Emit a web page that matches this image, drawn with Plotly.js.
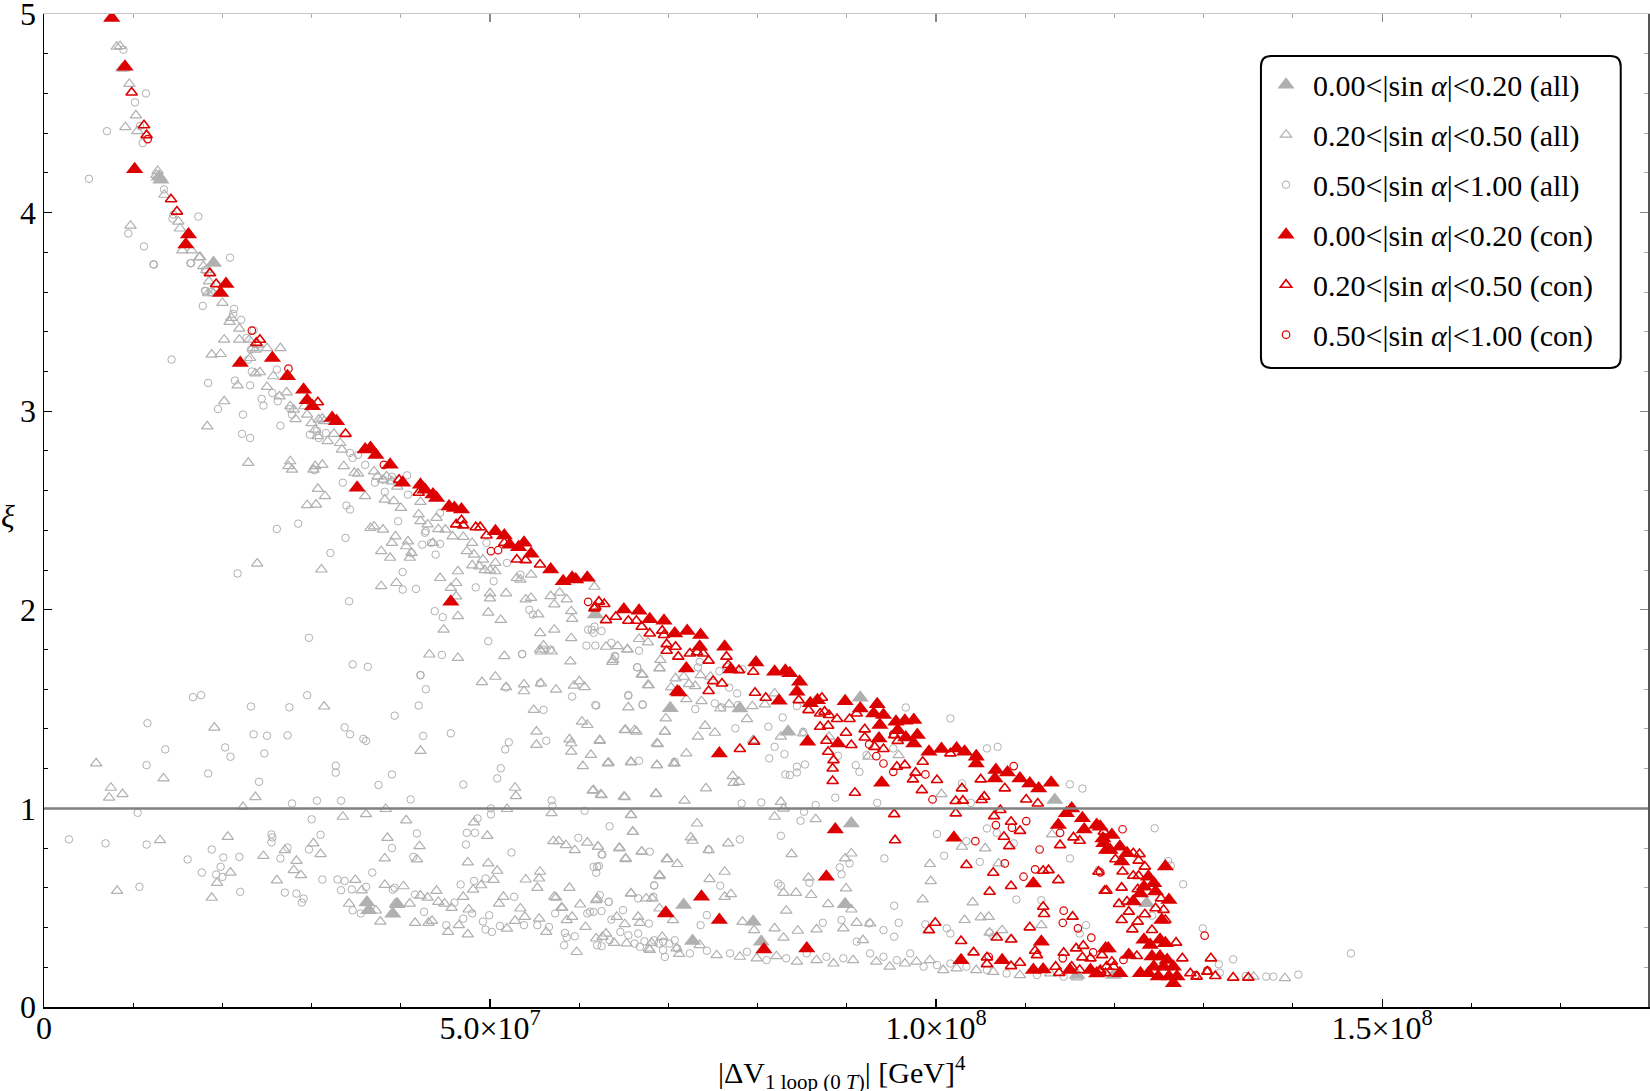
<!DOCTYPE html>
<html>
<head>
<meta charset="utf-8">
<script src="https://cdn.plot.ly/plotly-3.0.1.min.js"></script>
<style>
html,body{margin:0;padding:0;background:#fff;}
#chart{width:1650px;height:1091px;}
</style>
</head>
<body>
<div id="chart"></div>
<script>
// x values are given in units of 10^6 GeV^4, y values are xi
const X_UNIT = 1e6;

const legendNames = [
  "0.00&lt;|sin <i>α</i>|&lt;0.20 (all)",
  "0.20&lt;|sin <i>α</i>|&lt;0.50 (all)",
  "0.50&lt;|sin <i>α</i>|&lt;1.00 (all)",
  "0.00&lt;|sin <i>α</i>|&lt;0.20 (con)",
  "0.20&lt;|sin <i>α</i>|&lt;0.50 (con)",
  "0.50&lt;|sin <i>α</i>|&lt;1.00 (con)"
];

const xTickVals = [0, 5e7, 1e8, 1.5e8];
const xTickText = ["0", "5.0×10<sup>7</sup>", "1.0×10<sup>8</sup>", "1.5×10<sup>8</sup>"];
const xMinorVals = [1e7,2e7,3e7,4e7,6e7,7e7,8e7,9e7,1.1e8,1.2e8,1.3e8,1.4e8,1.6e8,1.7e8];
const yTickVals = [0,1,2,3,4,5];

// gray filled triangles: 0.00<|sin a|<0.20 (all)
const allLow = [[13.1,4.165],[12.9,4.18],[19.0,3.746],[61.8,1.976],[70.2,1.504],[36.2,0.526],[36.4,0.487],[39.1,0.47],[39.6,0.518],[78.0,1.503],[83.4,1.386],[91.5,1.557],[90.5,0.924],[113.3,1.042],[89.8,0.518],[71.7,0.513],[79.5,0.429],[80.4,0.329],[72.7,0.332],[115.8,0.161],[119.9,0.161],[123.6,0.522]];

// gray open triangles: 0.20<|sin a|<0.50 (all)
const allMid = [[8.15,4.835],[8.52,4.838],[8.7,4.726],[8.97,4.726],[9.57,4.648],[10.3,4.49],[9.12,4.43],[10.46,4.41],[12.74,4.21],[12.6,4.19],[13.5,4.09],[9.7,3.934],[15.06,3.955],[15.25,3.92],[15.5,3.81],[16.55,3.81],[17.4,3.775],[17.86,3.73],[18.4,3.594],[19.0,3.594],
[17.5,3.776],[18.2,3.71],[18.5,3.654],[20.0,3.545],[21.0,3.47],[20.8,3.45],[21.9,3.416],[20.2,3.36],[21.9,3.36],[23.0,3.36],[23.4,3.318],[23.7,3.31],[25.0,3.318],[26.5,3.318],[24.0,3.335],[18.8,3.285],[19.8,3.288],[23.1,3.268],[23.7,3.19],[24.2,3.196],[21.7,3.13],[25.0,3.122],[25.7,3.176],[26.4,3.075],[27.2,3.095],[27.6,3.025],[28.0,3.008],[28.2,2.96],[29.5,2.983],[29.2,3.025],[20.2,3.05],[18.3,2.924],[30.0,2.94],[30.8,2.958],[31.2,2.963],[30.4,2.907],[30.7,2.874],[31.8,2.849],[31.4,2.95],[32.5,2.886],[33.2,2.84],[33.4,2.807],[33.6,2.723],[22.9,2.74],[27.6,2.748],[27.4,2.723],[27.8,2.706],[30.4,2.723],[30.2,2.706],[31.2,2.73],[34.8,2.69],[35.2,2.686],[37.0,2.697],[37.4,2.672],[38.0,2.655],[38.4,2.672],[39.0,2.647],[39.6,2.62],[30.7,2.609],[31.5,2.572],[29.5,2.527],[30.5,2.53],[36.0,2.572],[38.2,2.555],[39.2,2.547],[40.0,2.513],[42.2,2.543],[42.0,2.48],[42.2,2.446],[43.0,2.43],[44.0,2.463],[44.2,2.406],[45.0,2.404],[45.8,2.37],[47.0,2.367],[36.6,2.412],[37.0,2.42],[38.0,2.404],[39.4,2.37],[39.0,2.337],[40.8,2.345],[40.6,2.32],[41.2,2.287],[41.0,2.262],[43.6,2.337],[37.8,2.295],[38.8,2.262],[37.8,2.119],[39.5,2.135],[23.9,2.233],[31.1,2.203],[47.4,2.295],[48.0,2.337],[48.2,2.278],[49.2,2.253],[50.6,2.236],[48.8,2.219],[48.0,2.224],[50.0,2.199],[49.4,2.2],[50.6,2.194],[53.0,2.16],[53.4,2.152],[54.6,2.177],[46.4,2.194],[44.4,2.16],[46.2,2.135],[45.6,2.11],[46.2,2.068],[46.4,1.968],[44.8,1.9],[49.8,1.986],[51.2,1.949],[51.8,2.083],[50.0,2.083],[50.0,2.058],[43.2,1.775],[46.4,1.758],[51.6,1.767],[49.1,1.636],[50.6,1.663],[53.8,1.624],[53.8,1.59],[57.4,1.598],[59.4,1.618],[60.6,1.611],[60.0,1.64],[59.0,1.74],[55.6,1.883],[57.2,1.9],[59.1,1.857],[55.6,1.8],[56.0,1.82],[59.2,1.954],[59.1,1.993],[57.2,2.027],[56.8,2.069],[57.8,2.086],[58.6,2.052],[54.0,2.052],[54.6,2.06],[55.4,1.977],
[55.7,1.79],[56.9,1.79],[51.8,1.61],[55.7,1.63],[63.8,1.748],[65.4,1.8],[67.8,1.62],[67.1,1.672],[69.0,1.706],[69.1,1.748],[65.5,1.509],[65.2,1.395],[66.4,1.387],[69.6,1.387],[68.8,1.324],[60.3,1.437],[60.9,1.42],[58.9,1.348],[59.1,1.328],[59.1,1.286],[55.2,1.387],[55.2,1.32],[54.9,1.496],[62.3,1.34],[61.3,1.27],[60.4,1.213],[63.2,1.227],[65.8,1.235],[68.7,1.218],[70.6,1.227],[42.2,1.29],
[5.85,1.227],[7.3,1.054],[8.8,1.072],[7.5,1.104],[13.4,1.151],[19.1,1.407],[31.4,1.513],[23.7,1.057],[22.3,1.007],[33.5,0.958],[36.1,0.971],[38.3,0.997],[40.6,0.94],[48.2,0.93],[49.7,0.862],[51.9,0.997],[52.8,1.104],[52.9,1.062],[56.9,0.976],[65.8,0.968],[66.0,0.882],[68.6,1.072],[65.1,1.057],[62.5,1.067],[61.5,1.089],
[13.0,0.84],[20.6,0.857],[24.6,0.761],[27.0,0.79],[28.3,0.736],[28.0,0.689],[28.8,0.664],[30.2,0.824],[31.0,0.77],[26.1,0.638],[19.4,0.625],[18.8,0.55],[20.9,0.677],[8.2,0.585],[38.5,0.852],[38.2,0.748],[42.1,0.81],[41.8,0.743],[47.5,0.728],[49.8,0.723],[50.8,0.686],[50.4,0.64],[54.0,0.642],[55.5,0.647],[55.6,0.681],[55.3,0.6],[57.1,0.835],[57.7,0.835],[58.5,0.815],[59.5,0.79],[60.9,0.828],[62.1,0.807],[64.5,0.802],[65.2,0.745],[67.0,0.782],[69.9,0.745],[69.0,0.659],[68.2,0.546],[65.8,0.571],[58.9,0.6],[57.4,0.551],[58.0,0.5],
[34.9,0.64],[34.2,0.52],[35.6,0.587],[37.2,0.486],[37.7,0.43],[38.2,0.615],[39.4,0.521],[40.3,0.608],[41.0,0.521],[41.6,0.424],[42.2,0.561],[43.0,0.551],[43.1,0.424],[43.5,0.434],[44.0,0.585],[44.2,0.529],[44.9,0.521],[45.3,0.378],[45.7,0.499],[46.5,0.412],[47.0,0.555],[47.5,0.366],[47.6,0.491],[48.1,0.591],[49.0,0.613],[51.0,0.521],[51.5,0.555],[51.9,0.395],[52.8,0.434],[53.4,0.496],[53.9,0.454],[55.5,0.445],[56.3,0.378],[57.2,0.555],[58.1,0.499],[58.6,0.437],[59.2,0.454],[59.7,0.277],[60.1,0.516],[60.7,0.403],[62.0,0.546],[62.6,0.353],[63.0,0.37],[63.9,0.323],[64.2,0.454],[65.1,0.417],[66.6,0.454],[66.8,0.424],[67.8,0.294],[68.1,0.323],[69.3,0.353],[69.8,0.471],[70.5,0.437],[71.2,0.267],
[61.7,2.116],[63.0,1.814],[64.3,1.817],[65.4,1.801],[66.7,1.853],[67.7,1.836],[63.7,1.738],[69.0,1.705],[67.0,1.675],[67.7,1.621],[70.3,1.609],[70.8,1.655],[71.7,1.663],[72.3,1.626],[73.0,1.616],[73.6,1.671],[74.7,1.663],[72.0,1.55],[73.7,1.54],[75.8,1.503],[76.8,1.524],[79.4,1.515],[80.8,1.524],[81.9,1.579],[78.8,1.45],[69.7,1.453],[65.1,1.394],[66.2,1.394],[69.6,1.386],[74.1,1.416],[75.2,1.381],[73.3,1.361],[68.7,1.327],[62.3,1.344],[79.5,1.344],[82.6,1.361],[85.1,1.378],[88.0,1.361],[92.4,1.26],[95.8,1.268],
[72.0,1.277],[63.3,1.23],[65.8,1.232],[68.7,1.218],[70.7,1.226],[61.6,1.092],[62.4,1.07],[65.0,1.059],[68.6,1.075],[71.8,1.039],[74.2,1.101],[77.2,1.163],[77.3,1.129],[77.9,1.134],[65.8,0.966],[66.0,0.882],[73.2,0.924],[72.5,0.854],[72.7,0.837],[76.7,0.824],[81.9,0.958],[82.6,1.033],[82.9,0.999],[86.5,0.946],[62.1,0.807],[64.5,0.799],[67.0,0.782],[65.2,0.748],[69.8,0.745],[71.0,0.72],[74.5,0.79],[83.8,0.77],[89.8,0.748],[90.5,0.773],[76.3,0.681],[74.6,0.644],[69.0,0.664],[65.8,0.572],[61.9,0.538],[82.9,0.575],[84.3,0.575],[86.0,0.564],[85.7,0.651],[89.9,0.597],[87.9,0.518],[90.5,0.491],[83.2,0.485],[69.0,0.496],[67.5,0.547],[76.3,0.555],[77.0,0.568],[78.3,0.429],[79.6,0.387],[81.9,0.396],[82.9,0.349],[84.5,0.384],[86.6,0.391],[89.6,0.396],[91.1,0.424],[92.6,0.421],[99.3,0.72],[99.4,0.634],[98.5,0.542],[100.6,1.072],[102.9,0.807],[105.5,0.799],[107.0,0.723],[104.1,0.527],[103.2,0.438],[105.0,0.451],[105.9,0.454],[106.0,0.374],[107.4,0.387],[108.5,0.34],[113.0,0.869],[111.8,0.412],
[61.9,0.345],[65.3,0.32],[67.9,0.287],[70.9,0.295],[73.5,0.312],[75.4,0.261],[78.0,0.253],[79.9,0.245],[82.1,0.256],[84.4,0.228],[86.6,0.236],[88.5,0.219],[90.7,0.236],[91.8,0.337],[93.3,0.228],[94.8,0.203],[96.5,0.219],[97.8,0.228],[99.3,0.236],[100.8,0.186],[102.3,0.194],[104.5,0.186],[106.4,0.177],[109.4,0.161],[112.8,0.169],[115.8,0.149],
[135.6,0.153],[139.1,0.145]];

// gray open circles: 0.50<|sin a|<1.00 (all)
const allHigh = [[8.9,4.82],[11.43,4.6],[10.2,4.555],[7.06,4.41],[10.76,4.436],[11.06,4.35],[5.04,4.17],[13.45,4.117],[14.4,3.97],[14.5,3.99],[17.3,3.98],[9.45,3.895],[11.2,3.83],[12.26,3.74],[16.4,3.745],[20.85,3.773],[18.05,3.71],[18.05,3.607],
[12.33,3.738],[16.5,3.746],[18.1,3.604],[18.7,3.6],[17.8,3.53],[21.3,3.515],[21.2,3.49],[22.1,3.46],[23.5,3.407],[22.7,3.369],[23.2,3.31],[22.9,3.26],[14.3,3.26],[23.3,3.2],[26.1,3.21],[27.2,3.176],[18.4,3.142],[21.4,3.154],[23.1,3.13],[24.4,3.062],[24.6,3.028],[25.6,3.092],[26.2,3.05],[27.6,3.011],[27.8,2.983],[19.5,3.011],[22.3,2.983],[26.5,2.927],[22.2,2.886],[23.1,2.865],[29.8,2.882],[30.6,2.9],[31.6,2.89],[30.8,2.865],[34.3,2.79],[34.6,2.765],[35.2,2.78],[33.5,2.64],[36.0,2.73],[30.3,2.703],[37.1,2.64],[38.0,2.655],[39.0,2.67],[39.7,2.655],[33.9,2.525],[34.3,2.505],[38.2,2.594],[40.7,2.677],[40.8,2.58],[39.7,2.446],[42.8,2.396],[44.4,2.488],[43.4,2.337],[43.9,2.278],[42.4,2.328],[42.7,2.388],[44.4,2.332],[41.2,2.285],[40.2,2.19],[41.7,2.105],[40.2,2.102],[26.1,2.407],[28.5,2.434],[33.8,2.362],[32.1,2.286],[21.7,2.183],[34.2,2.043],[49.6,2.337],[51.9,2.236],[53.4,2.177],[50.4,2.144],[43.8,1.993],[44.7,1.963],[48.4,2.113],[49.8,1.842],[53.6,1.778],[56.0,1.8],[56.8,1.8],[44.6,1.773],[42.2,1.67],[42.8,1.6],[51.8,1.609],[55.6,1.63],[59.2,1.563],[54.4,2.0],[54.8,1.976],[61.0,1.9],[61.6,1.884],[61.8,1.82],[61.4,1.9],[60.8,1.82],[16.7,1.56],[17.6,1.57],[29.5,1.57],[34.6,1.725],[36.3,1.713],[29.7,1.859],
[53.6,1.776],[42.2,1.672],[42.0,1.518],[61.9,1.518],[65.5,1.571],[67.1,1.521],[64.0,1.768],[66.5,1.711],[56.0,1.496],[56.3,1.341],[52.1,1.333],[51.7,1.297],[51.2,1.202],[50.8,1.151],[47.0,1.12],[45.6,1.378],[42.5,1.365],[11.6,1.429],[13.6,1.297],[11.5,1.218],[18.4,1.176],[20.3,1.307],[20.9,1.26],[23.2,1.513],[23.5,1.373],[25.0,1.366],[24.7,1.277],[27.3,1.368],[27.5,1.509],[33.7,1.408],[34.3,1.373],[35.8,1.35],[36.1,1.34],[32.7,1.215],[32.7,1.18],[24.1,1.134],[37.5,1.118],[39.0,1.171],[39.3,1.467],[41.1,1.045],[33.3,1.039],[30.6,1.039],[27.8,1.025],[10.5,0.978],[50.1,1.0],[50.1,0.97],[56.9,1.04],[57.0,1.013],[60.6,0.988],[63.4,0.91],[59.9,0.852],[62.6,0.768],[48.6,0.949],[48.3,0.877],[47.4,0.877],[47.3,0.818],[41.8,0.874],[39.0,0.8],[41.4,0.756],[31.0,0.867],[30.0,0.945],[29.7,0.793],[52.4,0.778],[62.0,0.706],
[2.8,0.844],[6.9,0.824],[11.5,0.818],[10.7,0.605],[16.1,0.743],[17.7,0.677],[18.8,0.793],[20.1,0.753],[19.8,0.706],[19.3,0.667],[20.0,0.655],[21.9,0.756],[22.0,0.58],[25.5,0.869],[25.6,0.854],[25.5,0.829],[26.5,0.748],[27.3,0.803],[27.0,0.576],[28.3,0.571],[28.9,0.526],[29.1,0.546],[31.2,0.642],[32.9,0.642],[33.7,0.635],[33.3,0.588],[34.5,0.592],[36.1,0.605],[36.8,0.677],[39.1,0.591],[39.3,0.6],[41.6,0.566],[48.2,0.635],[46.7,0.617],[49.5,0.647],
[34.6,0.487],[35.5,0.471],[42.6,0.479],[45.1,0.412],[46.0,0.526],[47.0,0.445],[48.0,0.471],[49.2,0.43],[49.5,0.39],[49.9,0.462],[50.2,0.378],[51.1,0.408],[52.7,0.555],[53.8,0.412],[55.3,0.412],[56.6,0.403],[57.3,0.471],[58.4,0.373],[58.6,0.35],[58.3,0.311],[59.5,0.356],[60.9,0.471],[61.6,0.479],[62.0,0.311],[62.5,0.306],[63.3,0.529],[63.6,0.44],[64.6,0.378],[65.5,0.361],[66.2,0.319],[66.6,0.37],[67.3,0.331],[67.8,0.42],[68.4,0.336],[68.9,0.319],[69.4,0.286],[69.6,0.252],[70.1,0.319],[70.7,0.336],[71.0,0.294],[68.4,0.613],
[61.7,1.915],[62.5,1.893],[63.6,1.834],[64.0,1.764],[66.7,1.794],[66.5,1.71],[65.5,1.567],[67.1,1.524],[61.8,1.52],[73.3,1.71],[73.5,1.738],[75.7,1.691],[76.5,1.713],[76.8,1.608],[77.7,1.579],[78.3,1.7],[77.8,1.52],[75.2,1.529],[73.0,1.5],[76.0,1.508],[77.5,1.403],[81.2,1.411],[82.8,1.458],[81.9,1.31],[84.4,1.515],[85.1,1.386],[89.0,1.265],[96.6,1.508],[101.6,1.453],[105.7,1.302],[106.9,1.31],[83.0,1.273],[95.2,1.302],
[66.7,1.24],[70.7,1.235],[81.3,1.252],[83.1,1.171],[83.6,1.168],[84.4,1.181],[84.4,1.21],[85.3,1.221],[91.0,1.218],[91.4,1.184],[92.2,1.268],[88.7,1.054],[86.5,1.017],[80.4,1.03],[78.2,1.025],[85.2,0.983],[84.8,0.938],[82.6,0.862],[78.0,0.844],[74.5,0.793],[67.9,0.782],[62.5,0.768],[61.6,0.706],[62.2,0.71],[61.9,0.676],[68.4,0.611],[75.8,0.611],[82.3,0.622],[82.6,0.61],[85.8,0.626],[89.2,0.703],[89.4,0.668],[90.3,0.723],[94.2,0.748],[93.4,1.028],[100.1,0.871],[100.9,0.762],[103.4,0.835],[102.9,1.126],[103.9,1.028],[105.7,0.899],[106.8,0.877],[104.9,0.731],[108.7,0.824],[109.0,0.541],[111.8,0.538],[95.3,0.51],[95.8,0.424],[94.1,0.387],[95.3,0.354],[98.8,0.416],[101.2,0.396],[101.6,0.37],[106.0,0.374],[106.4,0.354],[115.0,1.121],[116.4,1.1],[115.0,0.748],[118.2,0.689],[116.1,0.37],[116.8,0.412],[62.3,0.563],[63.3,0.53],[61.2,0.48],[62.5,0.483],[64.9,0.488],[66.6,0.547],[68.3,0.555],[74.3,0.463],[73.6,0.412],[87.3,0.424],[89.4,0.438],[92.5,0.421],
[63.4,0.337],[66.8,0.303],[69.4,0.329],[72.4,0.27],[74.3,0.283],[76.9,0.27],[78.8,0.278],[81.0,0.236],[83.2,0.245],[85.5,0.27],[87.7,0.253],[89.6,0.245],[91.1,0.329],[92.6,0.27],[94.1,0.253],[95.6,0.236],[97.1,0.27],[98.6,0.203],[100.1,0.211],[101.6,0.219],[103.4,0.203],[105.7,0.186],[107.9,0.169],[111.3,0.161],[114.3,0.152],
[124.5,0.9],[126.0,0.735],[126.3,0.712],[127.7,0.618],[124.2,0.46],[129.9,0.396],[131.7,0.215],[131.8,0.173],[133.3,0.24],[134.7,0.156],[137.0,0.153],[137.8,0.153],[140.6,0.163],[146.5,0.27]];

// red filled triangles: 0.00<|sin a|<0.20 (con)
const conLow = [[7.59,4.98],[9.08,4.735],[10.16,4.218],[16.2,3.89],[15.9,3.84],[20.4,3.64],[19.8,3.595],
[22.0,3.243],[25.6,3.268],[27.3,3.176],[29.1,3.108],[29.5,3.055],[30.1,3.025],[32.3,2.966],[32.8,2.95],[36.0,2.807],[36.6,2.815],[37.2,2.78],[38.8,2.73],[35.1,2.614],[40.2,2.64],[42.2,2.63],[42.7,2.605],[43.6,2.58],[44.0,2.563],[45.4,2.52],[46.0,2.513],[46.8,2.505],[45.6,2.04],[50.6,2.396],[51.6,2.374],[52.2,2.328],[53.2,2.315],[53.8,2.337],[54.6,2.282],[56.8,2.203],[58.2,2.144],[59.2,2.161],[59.6,2.152],[60.9,2.161],
[71.0,1.588],[69.7,0.471],
[65.0,2.002],[66.7,1.995],[67.9,1.952],[69.5,1.945],[70.7,1.881],[72.1,1.893],[73.6,1.873],[73.5,1.814],[76.3,1.814],[77.0,1.7],[79.8,1.735],[81.9,1.688],[83.1,1.693],[83.6,1.68],[84.7,1.638],[84.4,1.587],[72.0,1.705],[71.2,1.584],[82.4,1.542],[85.9,1.529],[86.7,1.545],[89.8,1.54],[91.5,1.503],[93.4,1.525],[93.0,1.478],[94.1,1.47],[93.7,1.42],[95.5,1.436],[96.5,1.441],[97.5,1.445],[95.7,1.394],[96.6,1.357],[97.9,1.369],[97.5,1.327],[85.6,1.336],[89.0,1.327],[93.6,1.352],[99.2,1.285],[100.6,1.299],[102.3,1.302],[103.2,1.285],[104.5,1.26],[75.7,1.277],
[88.7,0.894],[93.9,1.129],[102.0,0.852],[87.7,0.656],[73.7,0.555],[75.7,0.438],[69.7,0.475],[80.7,0.29],[85.5,0.295],[102.8,0.236],[104.5,1.226],[106.7,1.193],[108.0,1.181],[106.6,1.151],[109.4,1.151],[110.5,1.126],[111.5,1.1],[112.9,1.129],[115.2,1.0],[114.6,0.975],[113.7,0.916],[116.4,0.95],[118.0,0.916],[116.6,0.894],[118.7,0.849],[119.1,0.79],[110.9,0.622],[111.8,0.329],[119.0,0.295],[107.4,0.236],[110.9,0.186],[112.0,0.189],[115.0,0.186],[117.3,0.186],[118.0,0.169],
[118.4,0.908],[119.7,0.866],[118.8,0.824],[120.6,0.807],[119.5,0.79],[120.8,0.732],[121.4,0.774],[125.7,0.707],[123.8,0.656],[123.3,0.606],[124.4,0.623],[122.9,0.572],[124.6,0.581],[126.1,0.539],[122.1,0.531],[125.3,0.438],[123.3,0.338],[124.0,0.312],[125.1,0.338],[125.7,0.321],[119.3,0.295],[121.6,0.262],[124.2,0.254],[125.1,0.254],[125.9,0.237],[124.4,0.203],[125.5,0.203],[126.6,0.203],[120.6,0.17],[122.9,0.17],[127.0,0.153],[126.1,0.153],[126.6,0.119],[124.9,0.153],[123.8,0.17]];

// red open triangles: 0.20<|sin a|<0.50 (con)
const conMid = [[9.83,4.605],[11.21,4.44],[11.5,4.39],[14.24,4.067],[14.9,4.005],[18.6,3.695],[19.3,3.64],
[24.2,3.36],[23.8,3.344],[30.7,3.045],[33.8,2.886],[39.8,2.655],[42.0,2.589],[46.2,2.43],[46.8,2.451],[47.0,2.425],[48.4,2.416],[48.9,2.416],[49.6,2.374],[51.6,2.337],[53.0,2.253],[54.0,2.25],[55.6,2.228],[61.8,2.015],
[62.2,2.041],[62.8,2.029],[61.7,2.007],[63.0,1.948],[64.1,1.965],[65.5,1.945],[66.4,1.945],[67.0,1.915],[67.9,1.881],[69.3,1.895],[69.5,1.873],[69.8,1.827],[70.8,1.814],[69.8,1.794],[71.1,1.764],[72.4,1.78],[73.2,1.786],[73.9,1.78],[74.5,1.744],[76.5,1.764],[76.7,1.722],[77.9,1.696],[79.5,1.688],[75.0,1.641],[76.0,1.629],[74.5,1.591],[79.7,1.582],[80.9,1.557],[84.6,1.545],[85.7,1.495],[87.2,1.557],[87.0,1.478],[87.5,1.487],[88.0,1.47],[88.9,1.45],[90.3,1.45],[91.1,1.478],[87.0,1.411],[87.9,1.416],[92.0,1.398],[89.9,1.381],[87.7,1.341],[90.5,1.319],[92.0,1.357],[93.1,1.31],[94.1,1.299],[95.3,1.369],[95.7,1.34],[78.0,1.299],[79.6,1.336],[87.9,1.285],[101.6,1.277],[104.5,1.268],
[88.5,1.243],[88.4,1.201],[88.4,1.138],[98.5,1.235],[95.6,1.21],[96.5,1.218],[97.7,1.18],[97.4,1.146],[98.4,1.092],[100.1,1.143],[102.9,1.101],[102.2,1.037],[103.0,1.039],[102.2,0.975],[105.0,1.146],[105.4,1.059],[105.1,1.042],[106.5,0.961],[107.2,0.992],[107.7,1.101],[108.4,0.933],[109.4,0.887],[110.1,1.045],[111.4,1.025],[107.6,0.857],[108.2,0.81],[115.4,0.854],[116.1,0.837],[113.9,0.815],[90.9,1.079],[95.3,0.971],[95.4,0.84],[103.4,0.715],[106.4,0.676],[106.0,0.58],[108.4,0.609],[112.0,0.686],[112.6,0.689],[113.7,0.639],[118.2,0.681],[118.9,0.585],[112.0,0.505],[112.1,0.468],[115.3,0.455],[110.5,0.401],[99.9,0.424],[99.2,0.387],[102.8,0.332],[104.2,0.275],[105.7,0.25],[106.8,0.35],[108.4,0.34],[111.1,0.283],[111.3,0.261],[114.3,0.273],[115.7,0.295],[116.5,0.308],[116.4,0.25],[117.3,0.245],[118.6,0.261],[105.7,0.216],[108.4,0.206],[109.4,0.223],[113.4,0.203],[113.8,0.172],[115.2,0.203],[116.1,0.186],[118.4,0.186],
[118.8,0.883],[120.1,0.744],[122.1,0.774],[122.8,0.77],[122.7,0.737],[123.4,0.707],[120.9,0.682],[122.1,0.661],[122.7,0.66],[119.1,0.586],[120.8,0.601],[122.6,0.593],[120.5,0.519],[121.4,0.531],[125.2,0.547],[124.6,0.497],[125.5,0.489],[121.6,0.48],[123.4,0.467],[122.6,0.43],[124.2,0.388],[120.8,0.438],[122.0,0.391],[125.7,0.438],[126.9,0.324],[127.6,0.245],[122.5,0.257],[119.7,0.228],[119.1,0.203],[118.4,0.178],[128.5,0.17],[129.2,0.153],[130.4,0.178],[131.3,0.156],[130.8,0.245],[133.3,0.148],[135.0,0.148],[119.9,0.203],[119.0,0.17]];

// red open circles: 0.50<|sin a|<1.00 (con)
const conHigh = [[11.62,4.37],[23.3,3.406],[27.4,3.214],[38.1,2.73],[50.9,2.3],[50.1,2.295],[61.0,2.04],
[93.3,1.263],[92.5,1.322],[95.2,1.373],
[94.1,1.226],[95.2,1.184],[98.8,1.171],[99.6,1.045],[104.4,0.835],[106.7,0.916],[108.5,0.903],[110.1,0.936],[108.7,1.213],[113.9,0.877],[111.6,0.793],[107.7,0.723],[109.8,0.656],[111.1,0.693],[114.3,0.485],[114.2,0.424],[115.9,0.396],[117.4,0.349],[117.6,0.275],[114.2,0.245],[105.9,0.253],
[120.9,0.895],[118.4,0.678],[121.0,0.237],[130.1,0.359],[130.4,0.183],[129.1,0.161]];

const GRAY = "rgb(176,176,176)";
const RED = "rgb(220,0,0)";
const FONT = "Liberation Serif";

function mk(data, name, symbol, size, color, lw, grp) {
  return {
    type: "scatter", mode: "markers", name: name, legendgroup: grp,
    x: data.map(p => p[0] * X_UNIT), y: data.map(p => p[1]),
    marker: { symbol: symbol, size: size, color: color, line: { color: color, width: lw } },
    hoverinfo: "skip"
  };
}

const traces = [
  mk(allLow, legendNames[0], "triangle-up", 15, GRAY, 0, "g1"),
  mk(allMid, legendNames[1], "triangle-up-open", 10, GRAY, 1.2, "g2"),
  mk(allHigh, legendNames[2], "circle-open", 7.5, GRAY, 1.0, "g3"),
  mk(conLow, legendNames[3], "triangle-up", 15, RED, 0, "g4"),
  mk(conMid, legendNames[4], "triangle-up-open", 10, RED, 1.6, "g5"),
  mk(conHigh, legendNames[5], "circle-open", 7.5, RED, 1.2, "g6"),
  { type: "scatter", mode: "markers", x: [], y: [], xaxis: "x2", yaxis: "y2", showlegend: false, hoverinfo: "skip" }
];

const XMAX = 1.798e8;
const bx0 = 0.7587, bx1 = 0.983, by0 = 0.6435, by1 = 0.9577, rx = 0.0065, ry = 0.0105;
const boxPath = `M ${bx0+rx},${by1} L ${bx1-rx},${by1} Q ${bx1},${by1} ${bx1},${by1-ry} L ${bx1},${by0+ry} Q ${bx1},${by0} ${bx1-rx},${by0} L ${bx0+rx},${by0} Q ${bx0},${by0} ${bx0},${by0+ry} L ${bx0},${by1-ry} Q ${bx0},${by1} ${bx0+rx},${by1} Z`;

const layout = {
  width: 1650, height: 1091,
  margin: { l: 44, r: 2, t: 14, b: 84 },
  paper_bgcolor: "#fff", plot_bgcolor: "#fff",
  font: { family: FONT, size: 30, color: "#000" },
  showlegend: true,
  legend: {
    x: 0.7575, y: 0.955, xanchor: "left", yanchor: "top",
    bgcolor: "rgba(0,0,0,0)", borderwidth: 0,
    font: { family: FONT, size: 30, color: "#000" },
    itemwidth: 44, tracegroupgap: 8, traceorder: "grouped"
  },
  xaxis: {
    range: [0, XMAX], showgrid: false, zeroline: false,
    showline: true, linecolor: "#000", linewidth: 1.5,
    tickmode: "array", tickvals: xTickVals, ticktext: xTickText,
    ticks: "inside", ticklen: 8, tickwidth: 1.2, tickcolor: "#000",
    minor: { tickmode: "array", tickvals: xMinorVals, ticks: "inside", ticklen: 4, tickwidth: 1, tickcolor: "#000" },
    tickfont: { family: FONT, size: 32, color: "#000" }, ticklabeloverflow: "allow",
    ticklabelstandoff: -8
  },
  yaxis: {
    range: [0, 5], showgrid: false, zeroline: false,
    showline: true, linecolor: "#000", linewidth: 1.5,
    tickmode: "array", tickvals: yTickVals,
    ticks: "inside", ticklen: 8, tickwidth: 1.2, tickcolor: "#000",
    minor: { dtick: 0.2, ticks: "inside", ticklen: 4, tickwidth: 1, tickcolor: "#000" },
    tickfont: { family: FONT, size: 32, color: "#000" }, ticklabeloverflow: "allow"
  },
  xaxis2: {
    overlaying: "x", side: "top", anchor: "y", matches: "x", range: [0, XMAX],
    showgrid: false, zeroline: false, showline: true, linecolor: "#c8c8c8", linewidth: 1.5,
    tickmode: "array", tickvals: xTickVals, showticklabels: false,
    ticks: "inside", ticklen: 8, tickwidth: 1.2, tickcolor: "#888",
    minor: { tickmode: "array", tickvals: xMinorVals, ticks: "inside", ticklen: 4, tickwidth: 1, tickcolor: "#aaa" }
  },
  yaxis2: {
    overlaying: "y", side: "right", anchor: "x", matches: "y", range: [0, 5],
    showgrid: false, zeroline: false, showline: true, linecolor: "#555", linewidth: 1.5,
    tickmode: "array", tickvals: yTickVals, showticklabels: false,
    ticks: "inside", ticklen: 8, tickwidth: 1.2, tickcolor: "#888",
    minor: { dtick: 0.2, ticks: "inside", ticklen: 4, tickwidth: 1, tickcolor: "#aaa" }
  },
  shapes: [
    { type: "line", xref: "paper", yref: "y", x0: 0, x1: 1, y0: 1, y1: 1,
      line: { color: "#808080", width: 2.5 }, layer: "above" },
    { type: "path", xref: "paper", yref: "paper", path: boxPath,
      line: { color: "#000", width: 2 }, fillcolor: "#fff", layer: "above" }
  ],
  annotations: [
    { text: "<i>ξ</i>", xref: "paper", yref: "paper", x: -0.0224, y: 0.4945,
      xanchor: "center", yanchor: "middle", showarrow: false, font: { family: FONT, size: 32, color: "#000" } },
    { text: "|ΔV<sub>1 loop (0 <i>T</i>)</sub>| [GeV]<sup>4</sup>", xref: "paper", yref: "paper",
      x: 0.4975, y: -0.0655, xanchor: "center", yanchor: "middle", showarrow: false,
      font: { family: FONT, size: 30, color: "#000" } }
  ]
};

Plotly.newPlot("chart", traces, layout, { staticPlot: true, displayModeBar: false });
</script>
</body>
</html>
